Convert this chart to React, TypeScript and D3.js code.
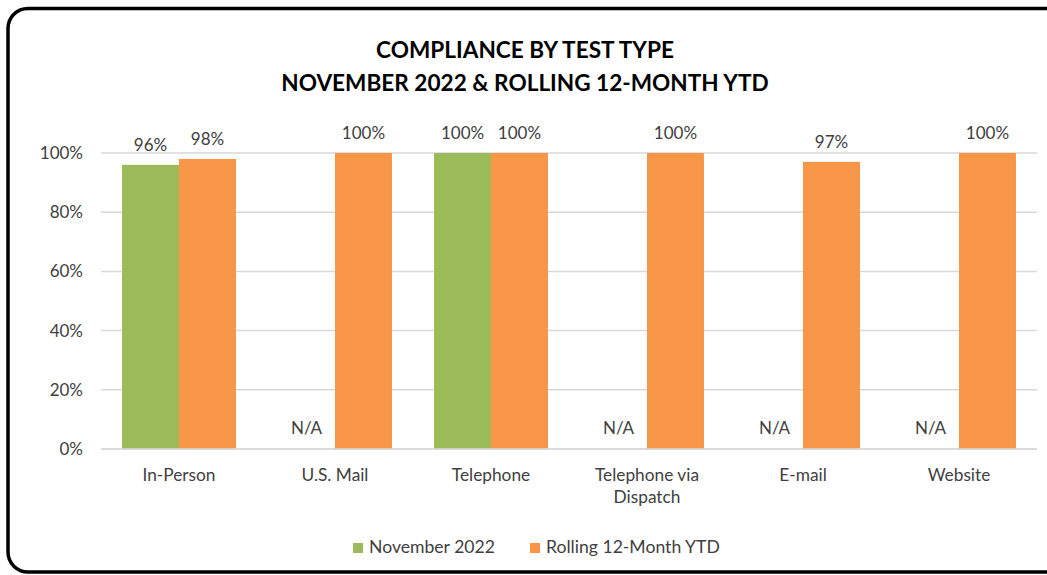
import React from "react";
import * as d3 from "d3";

const categories: string[][] = [
  ["In-Person"],
  ["U.S. Mail"],
  ["Telephone"],
  ["Telephone via", "Dispatch"],
  ["E-mail"],
  ["Website"],
];
const november2022: (number | null)[] = [0.96, null, 1.0, null, null, null];
const rolling12: number[] = [0.98, 1.0, 1.0, 1.0, 0.97, 1.0];
const yTicks: number[] = [0, 0.2, 0.4, 0.6, 0.8, 1.0];
const seriesNames = ["November 2022", "Rolling 12-Month YTD"];
const titleLines = ["COMPLIANCE BY TEST TYPE", "NOVEMBER 2022 & ROLLING 12-MONTH YTD"];

const GREEN = "#9BBB59";
const ORANGE = "#F79646";
const TEXT = "#404040";
const FONT = "Lato, 'Open Sans', sans-serif";

export default function App() {
  const W = 1047;
  const H = 575;
  const left = 101;
  const right = 1037;
  const top = 153;
  const bottom = 449;

  const x = d3.scaleBand<number>().domain(categories.map((_, i) => i)).range([left, right]).paddingInner(0.27).paddingOuter(0.135);
  const x1 = d3.scaleBand<number>().domain([0, 1]).range([0, x.bandwidth()]);
  const y = d3.scaleLinear().domain([0, 1]).range([bottom, top]);
  const fmt = d3.format(".0%");

  return (
    <svg width={W} height={H} style={{ position: "absolute", left: 0, top: 0 }} fontFamily={FONT}>
      <rect x={0} y={0} width={W} height={H} fill="#fff" />
      <rect x={8} y={8.5} width={1060} height={563.5} rx={20} fill="#fff" stroke="#000" strokeWidth={3.5} />
      {titleLines.map((t, i) => (
        <text key={t} x={525} y={58 + i * 33} textAnchor="middle" fontWeight="bold" fontSize={22.6} fill="#000">
          {t}
        </text>
      ))}
      {yTicks.map((t) => (
        <g key={t}>
          <line x1={left} x2={right} y1={y(t)} y2={y(t)} stroke="#D9D9D9" strokeWidth={1.5} />
          <text x={83} y={y(t) + 6} textAnchor="end" fontSize={17} fill={TEXT}>
            {fmt(t)}
          </text>
        </g>
      ))}
      {categories.map((c, i) => {
        const gx = x(i)!;
        const nv = november2022[i];
        const rv = rolling12[i];
        const gxN = gx + x1(0)!;
        const gxR = gx + x1(1)!;
        const bw = x1.bandwidth();
        return (
          <g key={i}>
            {nv !== null ? (
              <>
                <rect x={gxN} y={y(nv)} width={bw} height={bottom - y(nv)} fill={GREEN} />
                <text x={gxN + bw / 2} y={y(nv) - 14} textAnchor="middle" fontSize={17} fill={TEXT}>
                  {fmt(nv)}
                </text>
              </>
            ) : (
              <text x={gxN + bw / 2} y={434} textAnchor="middle" fontSize={17} fill={TEXT}>
                N/A
              </text>
            )}
            <rect x={gxR} y={y(rv)} width={bw} height={bottom - y(rv)} fill={ORANGE} />
            <text x={gxR + bw / 2} y={y(rv) - 14} textAnchor="middle" fontSize={17} fill={TEXT}>
              {fmt(rv)}
            </text>
            {c.map((line, j) => (
              <text key={j} x={gx + x.bandwidth() / 2} y={481 + j * 22} textAnchor="middle" fontSize={17.3} fill={TEXT}>
                {line}
              </text>
            ))}
          </g>
        );
      })}
      <line x1={left} x2={right} y1={bottom} y2={bottom} stroke="#D9D9D9" strokeWidth={1.5} />
      {seriesNames.map((s, i) => {
        const lx = i === 0 ? 353 : 530;
        return (
          <g key={s}>
            <rect x={lx} y={543} width={10} height={10} fill={i === 0 ? GREEN : ORANGE} />
            <text x={lx + 16} y={553} fontSize={17.6} fill={TEXT}>
              {s}
            </text>
          </g>
        );
      })}
    </svg>
  );
}
